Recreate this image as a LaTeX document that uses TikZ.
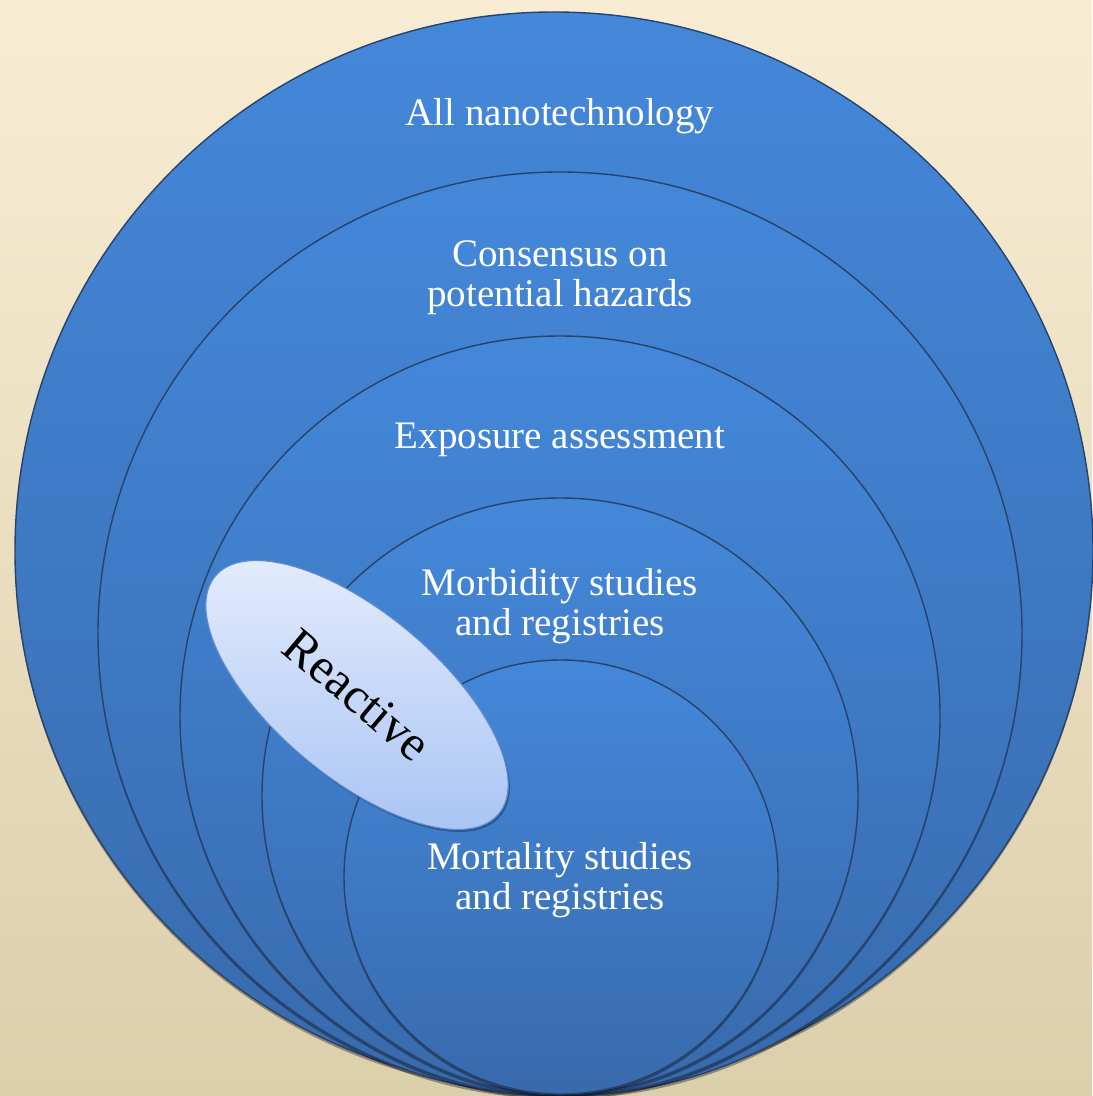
\documentclass[tikz,border=0pt]{standalone}
\usepackage{fontspec}
\setmainfont{Liberation Serif}
\usetikzlibrary{shapes.geometric,shadows}
\definecolor{bgtop}{RGB}{248,237,212}
\definecolor{bgbot}{RGB}{220,207,172}
\definecolor{ctop}{RGB}{68,136,218}
\definecolor{cbot}{RGB}{56,106,172}
\definecolor{cline}{RGB}{40,66,106}
\definecolor{etop}{RGB}{230,238,252}
\definecolor{ebot}{RGB}{166,194,244}
\definecolor{eline}{RGB}{96,140,206}
\tikzset{
  ring/.style={circle, inner sep=0pt, outer sep=0pt, draw=cline, line width=0.7pt,
    top color=ctop, bottom color=cbot,
    drop shadow={shadow xshift=0pt, shadow yshift=-1.5pt, opacity=0.35, fill=black}},
  lbl/.style={text=white, align=center, font=\fontsize{19.5}{20}\selectfont, inner sep=0pt},
  reactbox/.style={ellipse, inner sep=0pt, draw=eline, line width=0.6pt,
    top color=etop, bottom color=ebot, minimum width=185pt, minimum height=82pt,
    drop shadow={shadow xshift=0.8pt, shadow yshift=-1.2pt, opacity=0.3, fill=black}}
}
\begin{document}
\begin{tikzpicture}[x=0.5pt,y=-0.5pt]
\useasboundingbox (0,0) rectangle (1092,1096);
\shade[top color=bgtop, bottom color=bgbot] (0,0) rectangle (1092,1096);
\node[ring, minimum size=539pt] (c1) at (554,551) {};
\node[ring, minimum size=462pt] (c2) at (560,634) {};
\node[ring, minimum size=380pt] (c3) at (560,716) {};
\node[ring, minimum size=298pt] (c4) at (560,796) {};
\node[ring, minimum size=217pt] (c5) at (561,877) {};
\node[lbl] (t1) at (560,116) {All nanotechnology};
\node[lbl] (t2) at (560,278) {Consensus on\\potential hazards};
\node[lbl] (t3) at (560,440) {Exposure assessment};
\node[lbl] (t4) at (560,606) {Morbidity studies\\and registries};
\node[lbl] (t5) at (560,880) {Mortality studies\\and registries};
\node[reactbox, rotate=-40, font=\fontsize{25}{26}\selectfont] (re) at (357,695) {Reactive};
\end{tikzpicture}
\end{document}
